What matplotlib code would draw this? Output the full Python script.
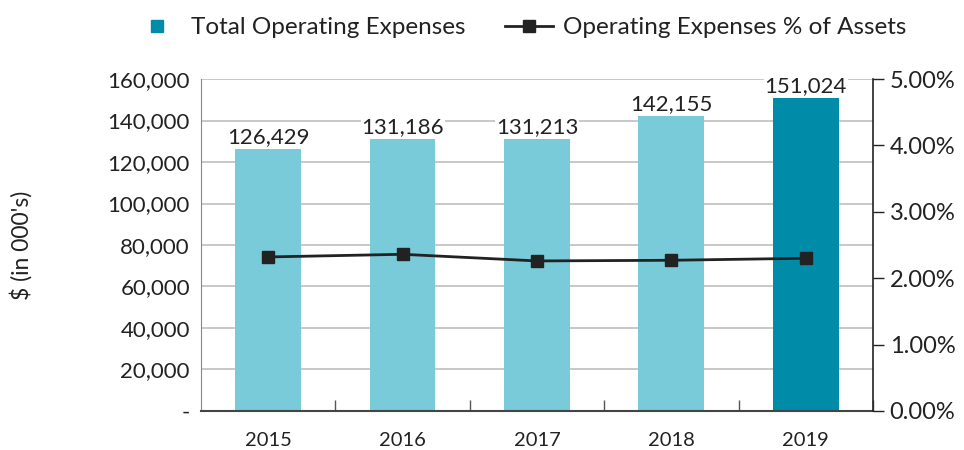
import matplotlib.pyplot as plt
from matplotlib.lines import Line2D
from matplotlib.ticker import FuncFormatter

plt.rcParams['font.family'] = ['Lato', 'DejaVu Sans']

# data
years = ['2015', '2016', '2017', '2018', '2019']
total_opex = [126429, 131186, 131213, 142155, 151024]
opex_pct_assets = [2.32, 2.36, 2.26, 2.27, 2.30]

light = '#79CBD9'
dark = '#008CA8'
bar_colors = [light, light, light, light, dark]
txt = '#222222'

fig = plt.figure(figsize=(9.64, 4.5), dpi=100)
ax = fig.add_axes([0.2085, 0.0867, 0.697, 0.7377])

x = list(range(len(years)))
ax.bar(x, total_opex, width=0.49, color=bar_colors, zorder=2)
ax.set_xlim(-0.5, len(years) - 0.5)
ax.set_ylim(0, 160000)
ax.set_yticks(range(0, 160001, 20000))
ax.yaxis.set_major_formatter(FuncFormatter(lambda v, p: '-' if v == 0 else f'{int(v):,}'))
ax.grid(axis='y', color='#c4c4c4', linewidth=1.3, zorder=0)
ax.set_axisbelow(True)
ax.tick_params(axis='y', length=0, pad=8, labelsize=16, colors=txt)

# category labels centred, boundary ticks pointing up
ax.set_xticks(x)
ax.set_xticklabels(years)
ax.tick_params(axis='x', which='major', length=0, pad=15, labelsize=14.5, colors=txt)
ax.set_xticks([i + 0.5 for i in x], minor=True)
ax.tick_params(axis='x', which='minor', direction='in', length=8, color='#555555', width=1)

ax.spines['top'].set_visible(False)
ax.spines['right'].set_visible(False)
ax.spines['left'].set_color('#888888')
ax.spines['bottom'].set_color('#444444')
ax.spines['bottom'].set_linewidth(1.5)

for xi, v in zip(x, total_opex):
    ax.text(xi, v + 800, f'{v:,}', ha='center', va='bottom', fontsize=16, color=txt,
            bbox=dict(facecolor='white', edgecolor='none', pad=0.5), zorder=3)

ax.set_ylabel("$ (in 000's)", fontsize=16.5, color=txt)
ax.yaxis.set_label_coords(-0.25, 0.5)

ax2 = ax.twinx()
ax2.plot(x, opex_pct_assets, color=txt, linewidth=2, marker='s', markersize=9, zorder=4)
ax2.set_ylim(0, 5)
ax2.set_yticks([0, 1, 2, 3, 4, 5])
ax2.yaxis.set_major_formatter(FuncFormatter(lambda v, p: f'{v:.2f}%'))
ax2.tick_params(axis='y', direction='out', length=8, width=1, color=txt, pad=4,
                labelsize=17, labelcolor=txt)
for s in ['top', 'left', 'bottom']:
    ax2.spines[s].set_visible(False)
ax2.spines['right'].set_color(txt)
ax2.spines['right'].set_linewidth(1.2)

handles = [
    Line2D([], [], linestyle='none', marker='s', markersize=9, color=dark),
    Line2D([], [], color=txt, linewidth=2, marker='s', markersize=9),
]
fig.legend(handles, ['Total Operating Expenses', 'Operating Expenses % of Assets'],
           loc='upper center', bbox_to_anchor=(0.539, 1.01), ncol=2, frameon=False,
           fontsize=17.5, handlelength=2.0, columnspacing=1.6, handletextpad=0.4,
           labelcolor=txt)

fig.savefig('out.png', dpi=100)
